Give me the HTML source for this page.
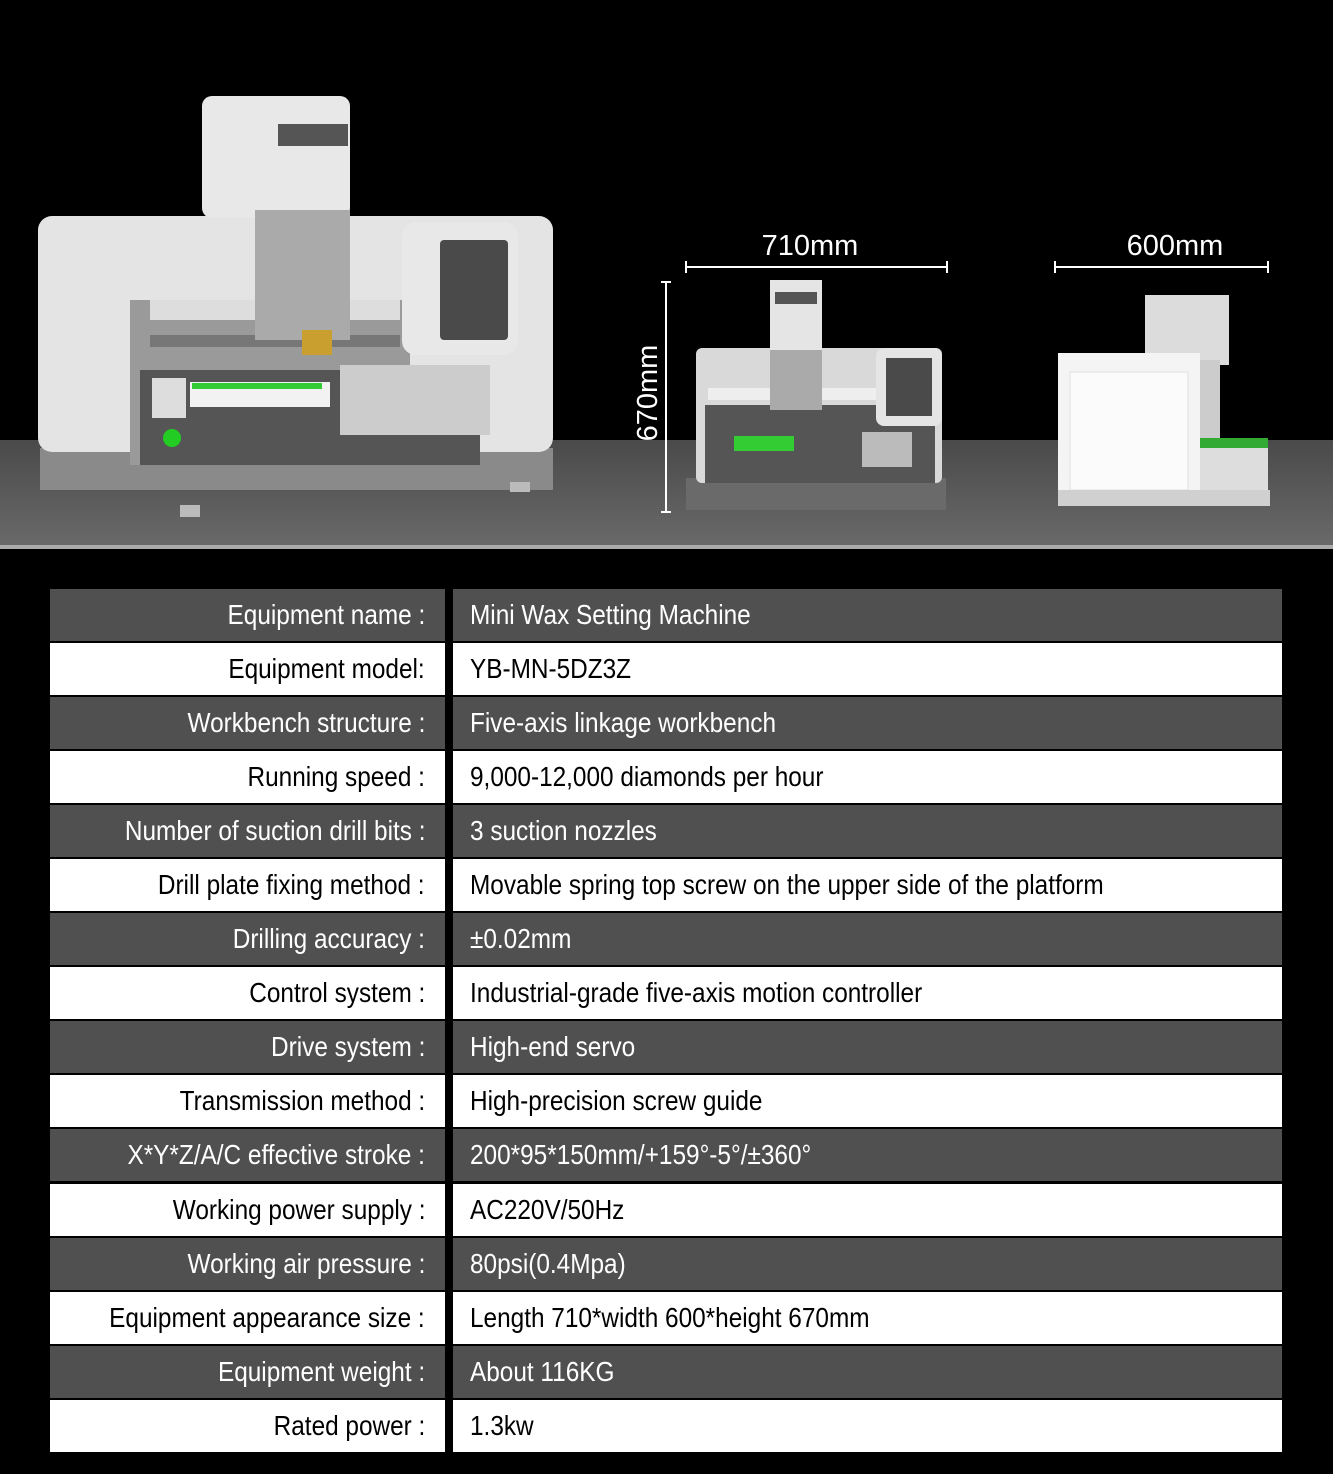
<!DOCTYPE html>
<html><head><meta charset="utf-8"><style>
*{margin:0;padding:0;box-sizing:border-box}
body{width:1333px;height:1474px;background:#000;position:relative;overflow:hidden;font-family:"Liberation Sans",sans-serif}
.r{position:absolute;left:50px;width:1232px;height:52px}
.l,.v{position:absolute;top:0;height:52px;line-height:52px;font-size:28px;white-space:nowrap}
.l{left:0;width:395px}
.v{left:403px;width:829px}
.l span{position:absolute;right:20px;transform:scaleX(.87);transform-origin:right center}
.v span{position:absolute;left:17px;transform:scaleX(.87);transform-origin:left center}
.d .l,.d .v{background:#505050;color:#fff}
.w .l,.w .v{background:#fff;color:#000}
.dim{position:absolute;color:#fff;font-size:29px;width:140px;text-align:center;height:34px;line-height:34px}
</style></head><body>
<svg width="1333" height="580" style="position:absolute;left:0;top:0">
<defs><linearGradient id="fl" x1="0" y1="0" x2="0" y2="1"><stop offset="0" stop-color="#4a4a4a"/><stop offset="1" stop-color="#6a6a6a"/></linearGradient></defs>
<rect x="0" y="440" width="1333" height="108" fill="url(#fl)"/>
<rect x="0" y="545" width="1333" height="4" fill="#aaa"/>
<!-- main machine -->
<rect x="40" y="448" width="513" height="42" fill="#8a8a8a"/>
<rect x="38" y="216" width="515" height="236" rx="14" fill="#e4e4e4"/>
<rect x="130" y="300" width="280" height="165" fill="#9a9a9a"/>
<rect x="140" y="370" width="340" height="95" fill="#555"/>
<rect x="150" y="300" width="250" height="20" fill="#ddd"/>
<rect x="150" y="335" width="250" height="12" fill="#777"/>
<rect x="190" y="382" width="140" height="25" fill="#f2f2f2"/>
<rect x="192" y="383" width="130" height="6" fill="#3c3"/>
<rect x="340" y="365" width="150" height="70" fill="#ccc"/>
<circle cx="172" cy="438" r="9" fill="#2c2"/>
<rect x="152" y="378" width="34" height="40" fill="#ddd"/>
<rect x="202" y="96" width="148" height="122" rx="10" fill="#e8e8e8"/>
<rect x="278" y="124" width="70" height="22" fill="#555"/>
<rect x="255" y="210" width="95" height="130" fill="#aaa"/>
<rect x="302" y="330" width="30" height="25" fill="#c9a030"/>
<rect x="402" y="222" width="116" height="133" rx="14" fill="#e8e8e8"/>
<rect x="440" y="240" width="68" height="100" rx="4" fill="#4a4a4a"/>
<rect x="180" y="505" width="20" height="12" fill="#bbb"/><rect x="510" y="482" width="20" height="10" fill="#bbb"/>
<!-- dims -->
<g stroke="#fff" stroke-width="2">
<line x1="686" y1="267" x2="947" y2="267"/><line x1="686" y1="261" x2="686" y2="273"/><line x1="947" y1="261" x2="947" y2="273"/>
<line x1="1055" y1="267" x2="1268" y2="267"/><line x1="1055" y1="261" x2="1055" y2="273"/><line x1="1268" y1="261" x2="1268" y2="273"/>
<line x1="666" y1="282" x2="666" y2="512"/><line x1="661" y1="282" x2="671" y2="282"/><line x1="661" y1="512" x2="671" y2="512"/>
</g>
<!-- front view -->
<rect x="686" y="478" width="260" height="32" fill="#6a6a6a"/>
<rect x="696" y="348" width="246" height="135" rx="6" fill="#d9d9d9"/>
<rect x="705" y="405" width="230" height="78" fill="#555"/>
<rect x="708" y="388" width="170" height="12" fill="#eee"/>
<rect x="734" y="436" width="60" height="15" fill="#3c3"/>
<rect x="862" y="432" width="50" height="35" fill="#bbb"/>
<rect x="770" y="280" width="52" height="72" fill="#e5e5e5"/>
<rect x="775" y="292" width="42" height="12" fill="#555"/>
<rect x="770" y="350" width="52" height="60" fill="#aaa"/>
<rect x="876" y="348" width="66" height="78" rx="8" fill="#e5e5e5"/>
<rect x="886" y="358" width="46" height="58" fill="#4a4a4a"/>
<!-- side view -->
<rect x="1145" y="295" width="84" height="70" fill="#dcdcdc"/>
<rect x="1058" y="353" width="142" height="152" fill="#f4f4f4"/>
<rect x="1070" y="372" width="118" height="118" fill="#fbfbfb" stroke="#e0e0e0"/>
<rect x="1200" y="360" width="20" height="145" fill="#ccc"/>
<rect x="1200" y="438" width="68" height="10" fill="#3a3"/>
<rect x="1200" y="448" width="68" height="57" fill="#ddd"/>
<rect x="1058" y="490" width="212" height="16" fill="#d0d0d0"/>
</svg>
<div class="dim" style="left:740px;top:229px">710mm</div>
<div class="dim" style="left:1105px;top:229px">600mm</div>
<div class="dim" style="left:578px;top:376px;transform:rotate(-90deg)">670mm</div>

<div class="r d" style="top:589px"><div class="l"><span>Equipment name :</span></div><div class="v"><span>Mini Wax Setting Machine</span></div></div>
<div class="r w" style="top:643px"><div class="l"><span>Equipment model:</span></div><div class="v"><span>YB-MN-5DZ3Z</span></div></div>
<div class="r d" style="top:697px"><div class="l"><span>Workbench structure :</span></div><div class="v"><span>Five-axis linkage workbench</span></div></div>
<div class="r w" style="top:751px"><div class="l"><span>Running speed :</span></div><div class="v"><span>9,000-12,000 diamonds per hour</span></div></div>
<div class="r d" style="top:805px"><div class="l"><span>Number of suction drill bits :</span></div><div class="v"><span>3 suction nozzles</span></div></div>
<div class="r w" style="top:859px"><div class="l"><span>Drill plate fixing method :</span></div><div class="v"><span>Movable spring top screw on the upper side of the platform</span></div></div>
<div class="r d" style="top:913px"><div class="l"><span>Drilling accuracy :</span></div><div class="v"><span>±0.02mm</span></div></div>
<div class="r w" style="top:967px"><div class="l"><span>Control system :</span></div><div class="v"><span>Industrial-grade five-axis motion controller</span></div></div>
<div class="r d" style="top:1021px"><div class="l"><span>Drive system :</span></div><div class="v"><span>High-end servo</span></div></div>
<div class="r w" style="top:1075px"><div class="l"><span>Transmission method :</span></div><div class="v"><span>High-precision screw guide</span></div></div>
<div class="r d" style="top:1129px"><div class="l"><span>X*Y*Z/A/C effective stroke :</span></div><div class="v"><span>200*95*150mm/+159°-5°/±360°</span></div></div>
<div class="r w" style="top:1184px"><div class="l"><span>Working power supply :</span></div><div class="v"><span>AC220V/50Hz</span></div></div>
<div class="r d" style="top:1238px"><div class="l"><span>Working air pressure :</span></div><div class="v"><span>80psi(0.4Mpa)</span></div></div>
<div class="r w" style="top:1292px"><div class="l"><span>Equipment appearance size :</span></div><div class="v"><span>Length 710*width 600*height 670mm</span></div></div>
<div class="r d" style="top:1346px"><div class="l"><span>Equipment weight :</span></div><div class="v"><span>About 116KG</span></div></div>
<div class="r w" style="top:1400px"><div class="l"><span>Rated power :</span></div><div class="v"><span>1.3kw</span></div></div>
</body></html>
